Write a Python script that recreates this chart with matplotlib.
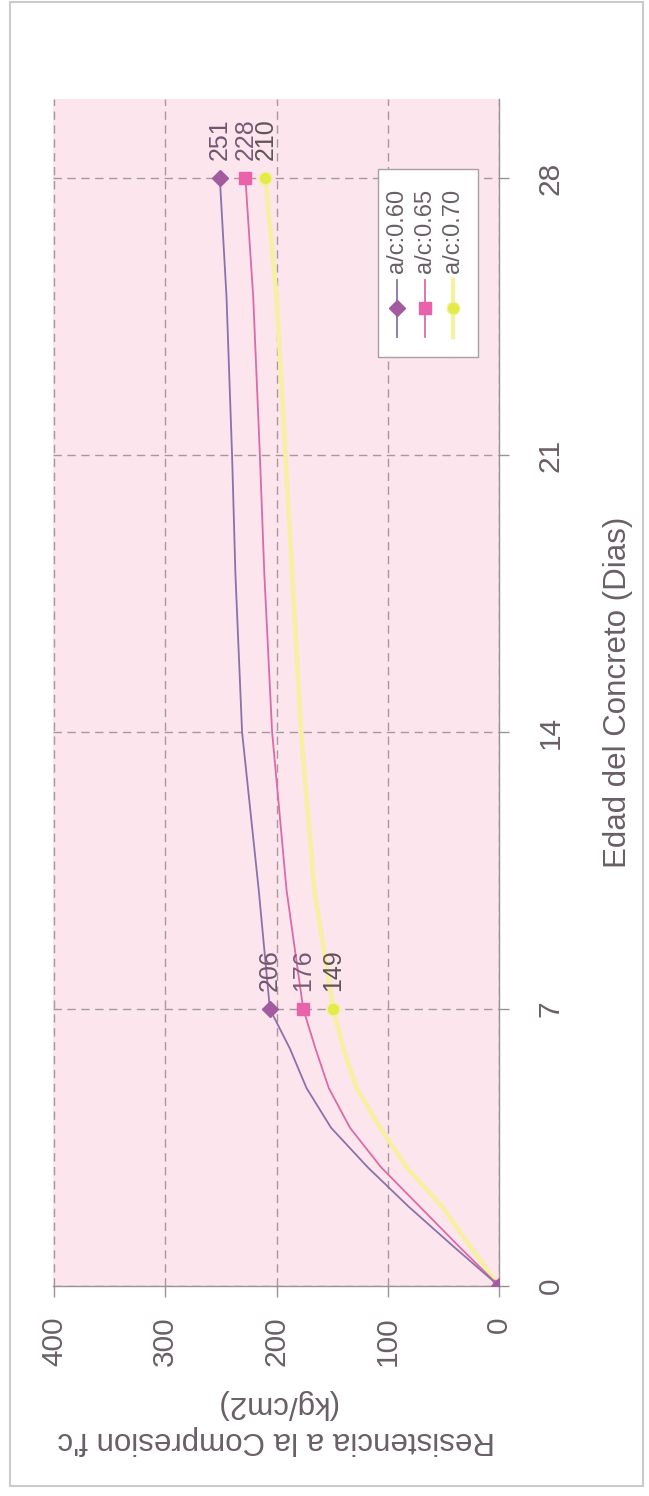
import matplotlib
matplotlib.use("Agg")
import matplotlib.pyplot as plt
from matplotlib.patches import Rectangle
from matplotlib.lines import Line2D

plt.rcParams['font.family'] = ['Liberation Sans', 'DejaVu Sans']

# ---- data ----
days = [0, 1, 2, 3, 4, 5, 6, 7, 10, 14, 18, 21, 25, 28]
ac_060 = [0, 41, 81, 118, 151, 173, 188, 206, 216, 231, 237, 240, 245, 251]
ac_065 = [0, 36, 71, 106, 134, 153, 165, 176, 191, 204, 211, 215, 221, 228]
ac_070 = [0, 26, 51, 83, 107, 128, 140, 149, 166, 178, 186, 192, 200, 210]
series_names = ["a/c:0.60", "a/c:0.65", "a/c:0.70"]
marked_days = [0, 7, 28]
labeled_days = [7, 28]
day_ticks = [0, 7, 14, 21, 28]
value_ticks = [0, 100, 200, 300, 400]

TXT = '#6a5f66'
fig = plt.figure(figsize=(6.49, 14.96), dpi=100)
fig.patch.set_facecolor('white')

# outer chart border
fig.add_artist(Rectangle((10/649, 10/1496), 633/649, 1484/1496, transform=fig.transFigure,
                         fill=False, edgecolor='#cfcaca', lw=1.5))

ax = fig.add_axes([53/649, 210/1496, 446/649, 1187/1496])
ax.set_facecolor('#fce5ec')

styles = [
    dict(color='#8a72aa', lw=1.3, marker='D', ms=8, mfc='#a25aa0', mec='#a25aa0'),
    dict(color='#dc6aa8', lw=1.3, marker='s', ms=9, mfc='#ea62aa', mec='#ea62aa'),
    dict(color='#f7f0a2', lw=3.2, marker='o', ms=9, mfc='#e4ea4a', mec='#eef29a'),
]
data = [ac_060, ac_065, ac_070]
label_colors = ['#6e5870', '#7a5a78', '#5e5458']
mark_idx = [days.index(d) for d in marked_days]
order = [2, 1, 0]
for i in order:
    ax.plot(data[i], days, markevery=mark_idx, zorder=3 + (2 - i), **styles[i])
for i in range(3):
    for d in labeled_days:
        v = data[i][days.index(d)]
        ax.annotate(str(v), xy=(v, d), xytext=(0, 13), textcoords='offset points',
                    rotation=90, ha='center', va='bottom', fontsize=18,
                    color=label_colors[i], zorder=10)

ax.set_xlim(401, 0)
ax.set_ylim(0, 30)
ax.set_xticks(value_ticks)
ax.set_yticks(day_ticks)
ax.yaxis.tick_right()
ax.grid(True, color='#a39a9c', lw=1.0, linestyle=(0, (6, 4)))
ax.set_axisbelow(True)
for s in ['top', 'left']:
    ax.spines[s].set_visible(False)
for s in ['bottom', 'right']:
    ax.spines[s].set_color('#9a9296')
    ax.spines[s].set_linewidth(1.0)
ax.tick_params(axis='x', direction='out', length=8, width=1, color='#9a9296',
               labelsize=21.5, labelcolor=TXT, labelrotation=90, pad=14)
ax.tick_params(axis='y', direction='out', length=7, width=1, color='#9a9296',
               labelsize=21.5, labelcolor=TXT, labelrotation=90, pad=20)
for t in ax.get_yticklabels():
    t.set_va('center')
    t.set_ha('left')

ax.set_ylabel("Edad del Concreto (Dias)", rotation=90, fontsize=22.5, color=TXT,
              ha='center', va='center')
ax.yaxis.set_label_position('right')
ax.yaxis.set_label_coords(1.233, 0.5)
ax.set_xlabel("Resistencia a la Compresion f'c\n(kg/cm2)", rotation=180, fontsize=22.5,
              color=TXT, ha='center', va='center', linespacing=1.3)
ax.xaxis.set_label_coords(0.5, -0.1146)

# legend (rotated, built manually)
def ax_xy(px, py):
    return ((px - 53) / 446, (1286 - py) / 1187)

x0, y0 = ax_xy(378, 357)
x1, y1 = ax_xy(478, 169)
ax.add_patch(Rectangle((x0, y0), x1 - x0, y1 - y0, transform=ax.transAxes,
                       facecolor='white', edgecolor='#a8a0a4', lw=1.0, zorder=12))
cols = [397, 425, 453]
for i in range(3):
    lx, ly_a = ax_xy(cols[i], 337)
    _, ly_b = ax_xy(cols[i], 280)
    _, ly_m = ax_xy(cols[i], 308)
    st = styles[i]
    ax.add_line(Line2D([lx, lx], [ly_a, ly_b], transform=ax.transAxes, color=st['color'],
                       lw=st['lw'], zorder=13))
    ax.add_line(Line2D([lx], [ly_m], transform=ax.transAxes, marker=st['marker'], ms=st['ms'],
                       mfc=st['mfc'], mec=st['mec'], lw=0, zorder=14))
    _, ty = ax_xy(cols[i], 273)
    ax.text(lx, ty, series_names[i], transform=ax.transAxes, rotation=90, ha='center',
            va='bottom', fontsize=17, color=TXT, zorder=14)

fig.savefig('out.png', dpi=100, facecolor='white')
